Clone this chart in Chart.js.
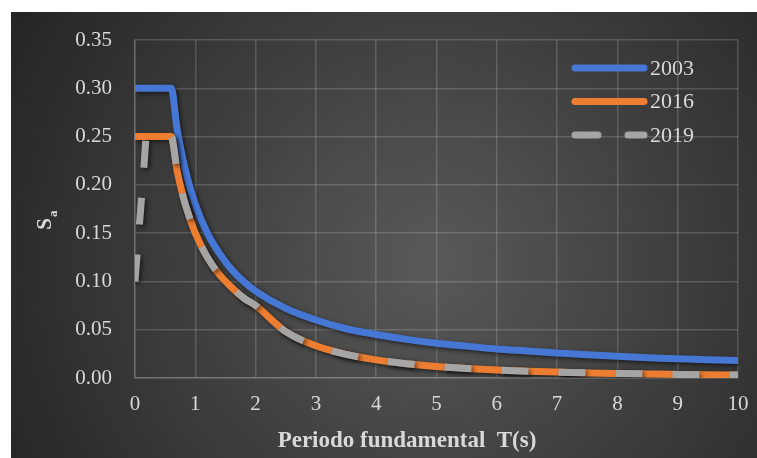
<!DOCTYPE html>
<html>
<head>
<meta charset="utf-8">
<script src="https://cdn.jsdelivr.net/npm/chart.js@4/dist/chart.umd.min.js"></script>
<style>
  body { margin: 0; background: #fff; }
  #wrap { position: absolute; left: 11px; top: 12px; width: 746px; height: 446px; }
</style>
</head>
<body>
<div id="wrap"><canvas id="myChart" width="746" height="446"></canvas></div>
<script>
// Periodo T(s) shared by the 2003 and 2016 curves
const periods = [0, 0.6, 0.7, 0.8, 0.9, 1, 1.2, 1.4, 1.6, 1.8, 2, 2.5, 3, 3.5, 4, 4.5, 5, 5.5, 6, 6.5, 7, 7.5, 8, 8.5, 9, 9.5, 10]
const sa2003 = [0.30, 0.30, 0.257, 0.225, 0.20, 0.18, 0.15, 0.129, 0.1125, 0.10, 0.09, 0.072, 0.06, 0.051, 0.045, 0.04, 0.036, 0.033, 0.03, 0.028, 0.026, 0.024, 0.0225, 0.021, 0.02, 0.019, 0.018]
const sa2016 = [0.25, 0.25, 0.214, 0.1875, 0.167, 0.15, 0.125, 0.107, 0.094, 0.083, 0.075, 0.048, 0.0333, 0.0245, 0.0188, 0.0148, 0.012, 0.0099, 0.0083, 0.0071, 0.0061, 0.0053, 0.0047, 0.0042, 0.0037, 0.0033, 0.003]
// 2019 starts lower and rises to the plateau
const periods2019 = [0, 0.05, 0.1, 0.15, 0.19, 0.6, 0.7, 0.8, 0.9, 1, 1.2, 1.4, 1.6, 1.8, 2, 2.5, 3, 3.5, 4, 4.5, 5, 5.5, 6, 6.5, 7, 7.5, 8, 8.5, 9, 9.5, 10]
const sa2019 = [0.10, 0.14, 0.18, 0.22, 0.25, 0.25, 0.214, 0.1875, 0.167, 0.15, 0.125, 0.107, 0.094, 0.083, 0.075, 0.048, 0.0333, 0.0245, 0.0188, 0.0148, 0.012, 0.0099, 0.0083, 0.0071, 0.0061, 0.0053, 0.0047, 0.0042, 0.0037, 0.0033, 0.003]
const seriesNames = ['2003', '2016', '2019']
const seriesColors = ['#4677D5', '#ED7D31', '#A5A5A5']

const toPoints = (xs, ys) => xs.map((x, i) => ({ x: x, y: ys[i] }))
const textColor = '#d9d9d9'
const gridColor = 'rgba(255,255,255,0.16)'

// dark gradient behind everything
const background = {
  id: 'background',
  beforeDraw(chart) {
    const c = chart.ctx
    const g = c.createRadialGradient(420, 250, 20, 420, 250, 480)
    g.addColorStop(0, '#575757')
    g.addColorStop(1, '#252525')
    c.save()
    c.fillStyle = g
    c.fillRect(0, 0, chart.width, chart.height)
    c.restore()
  }
}

// soft drop shadow under the curves
const lineShadow = {
  id: 'lineShadow',
  beforeDatasetDraw(chart) {
    const c = chart.ctx
    c.save()
    c.shadowColor = 'rgba(0,0,0,0.55)'
    c.shadowBlur = 4
    c.shadowOffsetX = 2
    c.shadowOffsetY = 2
  },
  afterDatasetDraw(chart) {
    chart.ctx.restore()
  }
}

// legend in the top right corner, axis titles (S with subscript a)
const extras = {
  id: 'extras',
  afterDraw(chart) {
    const c = chart.ctx
    c.save()
    seriesNames.forEach((name, i) => {
      const y = 56 + i * 33.5
      c.beginPath()
      c.lineWidth = 7
      c.lineCap = 'round'
      c.strokeStyle = seriesColors[i]
      c.setLineDash(i === 2 ? [23, 30] : [])
      c.moveTo(564, y)
      c.lineTo(633, y)
      c.stroke()
      c.setLineDash([])
      c.fillStyle = textColor
      c.font = '22px "Liberation Serif"'
      c.textBaseline = 'middle'
      c.textAlign = 'left'
      c.fillText(name, 639, y + 1)
    })

    c.fillStyle = textColor
    c.font = 'bold 23px "Liberation Serif"'
    c.textAlign = 'center'
    c.textBaseline = 'alphabetic'
    c.fillText('Periodo fundamental  T(s)', 396, 435)

    c.translate(40, 206)
    c.rotate(-Math.PI / 2)
    c.font = 'bold 21px "Liberation Serif"'
    c.textAlign = 'right'
    c.fillText('S', 0, 0)
    c.font = 'bold 13px "Liberation Serif"'
    c.textAlign = 'left'
    c.fillText('a', 1, 6)
    c.restore()
  }
}

const ctx = document.getElementById('myChart').getContext('2d')
const chart = new Chart(ctx, {
  type: 'line',
  data: {
    datasets: [
      {
        label: seriesNames[0],
        data: toPoints(periods, sa2003),
        borderColor: seriesColors[0],
        borderWidth: 7,
        order: 2
      },
      {
        label: seriesNames[1],
        data: toPoints(periods, sa2016),
        borderColor: seriesColors[1],
        borderWidth: 7,
        order: 1
      },
      {
        label: seriesNames[2],
        data: toPoints(periods2019, sa2019),
        borderColor: seriesColors[2],
        borderWidth: 7,
        borderDash: [27, 30],
        order: 0
      }
    ]
  },
  options: {
    responsive: false,
    animation: false,
    devicePixelRatio: 1,
    layout: { padding: { left: 0, top: 28, right: 19, bottom: 0 } },
    elements: {
      point: { radius: 0 },
      line: { cubicInterpolationMode: 'monotone', borderJoinStyle: 'round' }
    },
    plugins: { legend: { display: false }, tooltip: { enabled: false } },
    scales: {
      x: {
        type: 'linear',
        min: 0,
        max: 10,
        afterFit(scale) {
          scale.height = 80
          scale.paddingLeft = 0
          scale.paddingRight = 0
        },
        ticks: { stepSize: 1, color: textColor, padding: 14, font: { family: 'Liberation Serif', size: 21 } },
        grid: { color: gridColor, lineWidth: 1.5, drawTicks: false },
        border: { color: gridColor, width: 1.5 }
      },
      y: {
        min: 0,
        max: 0.35,
        afterFit(scale) {
          scale.width = 124
          scale.paddingTop = 0
          scale.paddingBottom = 0
        },
        ticks: {
          stepSize: 0.05,
          color: textColor,
          padding: 23,
          font: { family: 'Liberation Serif', size: 21 },
          callback: v => v.toFixed(2)
        },
        grid: { color: gridColor, lineWidth: 1.5, drawTicks: false },
        border: { color: gridColor, width: 1.5 }
      }
    }
  },
  plugins: [background, lineShadow, extras]
})
</script>
</body>
</html>
